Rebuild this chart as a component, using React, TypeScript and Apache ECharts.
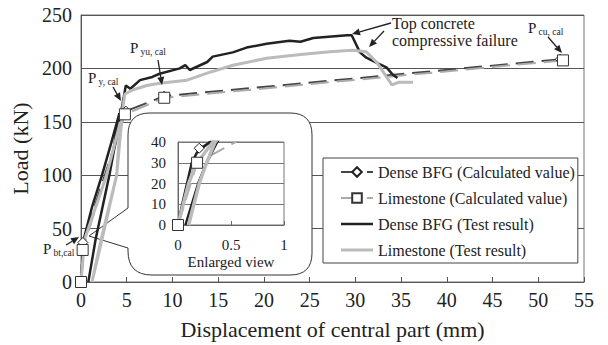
import React, { useEffect, useRef } from "react";
import * as echarts from "echarts";

const FONT = '"Liberation Serif", "Times New Roman", serif';

// Main chart: displacement (mm), load (kN)
const denseCalc: [number, number][] = [
  [0, 0], [0.2, 37], [4.9, 160], [9.1, 174], [52.4, 208.5],
];
const limeCalc: [number, number][] = [
  [0, 0], [0.18, 30], [4.8, 157], [9.1, 172.5], [52.7, 207.5],
];
const denseTest: [number, number][] = [
  [0, 0], [0.3, 40], [1.2, 70], [2.3, 100], [3.3, 130], [4.2, 158],
  [3.1, 100], [1.6, 40], [0.8, 0], [1.6, 40], [3.1, 100], [4.4, 160],
  [4.9, 184], [5.4, 181], [6.45, 189], [7.8, 192], [8.6, 195], [10.8, 200],
  [11.4, 203], [11.9, 198.5], [13.8, 206], [14.4, 211], [16.6, 215],
  [18.1, 219.5], [20.3, 223], [22.8, 225.8], [24, 225], [25.4, 228.5],
  [29.1, 231], [29.6, 231], [30.5, 215], [31.2, 210], [32.4, 205],
  [33.4, 201], [34.1, 194], [34.6, 191],
];
const limeTest: [number, number][] = [
  [0, 0], [0.4, 40], [1.6, 70], [2.8, 100], [4.3, 150], [3.9, 100],
  [2.2, 40], [1.2, 0], [2.3, 40], [3.9, 100], [4.6, 165], [4.8, 176],
  [5.7, 180], [7.2, 184], [8.6, 186], [11.6, 189], [13.8, 195.6],
  [16.6, 203], [20.3, 209.5], [24, 213], [27.2, 215.6], [29.7, 217],
  [31.2, 215.5], [32.4, 205], [33.4, 192], [34, 184.5], [34.7, 187],
  [36.3, 187],
];

// Enlarged view (inset)
const denseTestEnlarged: [number, number][] = [
  [0, 0], [0.04, 10], [0.085, 20], [0.13, 30], [0.18, 35], [0.3, 40],
  [0.42, 44], [0.37, 40], [0.27, 30], [0.19, 20], [0.13, 10], [0.07, 0],
];
const limeTestEnlarged: [number, number][] = [
  [0, 0], [0.05, 10], [0.1, 20], [0.16, 28], [0.24, 34], [0.33, 40],
  [0.4, 43], [0.35, 40], [0.27, 30], [0.2, 20], [0.15, 10], [0.1, 0],
];

const legendNames = [
  "Dense BFG (Calculated value)",
  "Limestone (Calculated value)",
  "Dense BFG (Test result)",
  "Limestone (Test result)",
];

const calloutD =
  "M 150 113 L 290 113 Q 312 113 312 135 L 312 253 Q 312 275 290 275 L 152 275 Q 128 275 128 251 L 128 248 L 89 236 L 128 208 L 128 135 Q 128 113 150 113 Z";

// legend line icon: thin bar centred in a 32x12 box (tiny corner dots fix the box)
const lineIcon = (t: number) =>
  `path://M0,0h0.01v0.01h-0.01z M0,${6 - t / 2}h32v${t}h-32z M31.99,11.99h0.01v0.01h-0.01z`;

let registered = false;
function ensureShape() {
  if (registered) return;
  echarts.graphic.registerShape("callout", echarts.graphic.extendPath(calloutD, {}));
  registered = true;
}

function arrow(x1: number, y1: number, x2: number, y2: number) {
  const a = Math.atan2(y2 - y1, x2 - x1);
  const L = 8;
  const W = 3.5;
  const bx = x2 - L * Math.cos(a);
  const by = y2 - L * Math.sin(a);
  const p1 = [bx + W * Math.sin(a), by - W * Math.cos(a)];
  const p2 = [bx - W * Math.sin(a), by + W * Math.cos(a)];
  return [
    { type: "line", z: 20, shape: { x1, y1, x2: bx, y2: by }, style: { stroke: "#222", lineWidth: 1.3 } },
    { type: "polygon", z: 20, shape: { points: [[x2, y2], p1, p2] }, style: { fill: "#222" } },
  ];
}

function txt(text: string, x: number, y: number, size: number, align = "left") {
  return {
    type: "text",
    z: 20,
    x,
    y,
    style: { text, fontSize: size, fontFamily: FONT, fill: "#222", align, verticalAlign: "middle" },
  };
}

function pLabel(sub: string, x: number, y: number) {
  return [txt("P", x, y, 15), txt(sub, x + 10.5, y + 3.5, 9.5)];
}

export default function App() {
  const ref = useRef<HTMLDivElement>(null);
  useEffect(() => {
    if (!ref.current) return;
    ensureShape();
    const chart = echarts.init(ref.current, undefined, { renderer: "svg" });
    const calcStyle = (color: string) => ({ color, width: 2, type: [18, 8] as any });
    const option: any = {
      animation: false,
      backgroundColor: "#fff",
      grid: [
        { left: 81, right: 24, top: 15, bottom: 63, show: true, borderColor: "#777", borderWidth: 1 },
        { left: 178, right: 324, top: 142, bottom: 120, show: true, borderColor: "#777", borderWidth: 1, z: 3 },
      ],
      xAxis: [
        {
          gridIndex: 0, type: "value", min: 0, max: 55, interval: 5,
          axisLine: { show: true, lineStyle: { color: "#555" } },
          axisTick: { show: true, inside: true, length: 5, lineStyle: { color: "#555" } },
          axisLabel: { fontSize: 20, fontFamily: FONT, color: "#222", margin: 8 },
          splitLine: { show: false },
          name: "Displacement of central part (mm)", nameLocation: "middle", nameGap: 36,
          nameTextStyle: { fontSize: 22, fontFamily: FONT, color: "#222" },
        },
        {
          gridIndex: 1, type: "value", min: 0, max: 1, interval: 0.5, z: 3,
          axisLine: { show: true, lineStyle: { color: "#666" } },
          axisTick: { show: true, inside: true, length: 4, lineStyle: { color: "#666" } },
          axisLabel: { fontSize: 15, fontFamily: FONT, color: "#222", margin: 12 },
          splitLine: { show: false },
          name: "Enlarged view", nameLocation: "middle", nameGap: 29,
          nameTextStyle: { fontSize: 15, fontFamily: FONT, color: "#222" },
        },
      ],
      yAxis: [
        {
          gridIndex: 0, type: "value", min: 0, max: 250, interval: 50,
          axisLine: { show: true, lineStyle: { color: "#555" } },
          axisTick: { show: false },
          axisLabel: { fontSize: 20, fontFamily: FONT, color: "#222", margin: 9 },
          splitLine: { show: true, lineStyle: { color: "#555", width: 1 } },
          name: "Load (kN)", nameLocation: "middle", nameGap: 47, nameRotate: 90,
          nameTextStyle: { fontSize: 22, fontFamily: FONT, color: "#222" },
        },
        {
          gridIndex: 1, type: "value", min: 0, max: 40, interval: 10, z: 3,
          axisLine: { show: true, lineStyle: { color: "#666" } },
          axisTick: { show: false },
          axisLabel: { fontSize: 15, fontFamily: FONT, color: "#222", margin: 12 },
          splitLine: { show: true, lineStyle: { color: "#777", width: 1 } },
        },
      ],
      legend: {
        orient: "vertical", left: 323, top: 158,
        itemWidth: 32, itemHeight: 12, itemGap: 10,
        padding: [6, 3, 5, 17],
        backgroundColor: "#fff", borderColor: "#444", borderWidth: 1,
        textStyle: { fontFamily: FONT, fontSize: 16, color: "#222" },
        data: [
          { name: legendNames[0] },
          { name: legendNames[1] },
          { name: legendNames[2], icon: lineIcon(2.5) },
          { name: legendNames[3], icon: lineIcon(3) },
        ],
        z: 6,
      },
      graphic: [
        { type: "callout", x: 0, y: 0, z: 1, style: { fill: "#fff", stroke: "#333", lineWidth: 1 } },
        txt("Top concrete", 392, 23, 16),
        txt("compressive failure", 392, 40, 16),
        ...arrow(391, 23, 352, 34),
        ...arrow(384, 31, 369, 47),
        ...pLabel("cu, cal", 528, 28),
        ...arrow(548, 37, 562, 53),
        ...pLabel("yu, cal", 130, 48),
        ...arrow(158, 60, 162, 85),
        ...pLabel("y, cal", 88, 78),
        ...arrow(113, 87, 121, 101),
        ...pLabel("bt,cal", 43, 249),
        ...arrow(66, 245, 79, 237),
      ],
      series: [
        {
          name: legendNames[0], type: "line", xAxisIndex: 0, yAxisIndex: 0, z: 2,
          data: denseCalc, symbol: "diamond", symbolSize: 10, showAllSymbol: true,
          lineStyle: calcStyle("#444"),
          itemStyle: { color: "#fff", borderColor: "#222", borderWidth: 1 },
        },
        {
          name: legendNames[1], type: "line", xAxisIndex: 0, yAxisIndex: 0, z: 2,
          data: limeCalc, symbol: "rect", symbolSize: 11, showAllSymbol: true,
          lineStyle: calcStyle("#aaa"),
          itemStyle: { color: "#fff", borderColor: "#333", borderWidth: 1 },
        },
        {
          name: legendNames[2], type: "line", xAxisIndex: 0, yAxisIndex: 0, z: 2,
          data: denseTest, symbol: "none",
          lineStyle: { color: "#222", width: 2.5 },
          itemStyle: { color: "#222" },
        },
        {
          name: legendNames[3], type: "line", xAxisIndex: 0, yAxisIndex: 0, z: 2,
          data: limeTest, symbol: "none",
          lineStyle: { color: "#bbb", width: 3 },
          itemStyle: { color: "#bbb" },
        },
        {
          name: "inset-dense-calc", type: "line", xAxisIndex: 1, yAxisIndex: 1, z: 4,
          data: denseCalc, symbol: "diamond", symbolSize: 10, clip: true,
          lineStyle: calcStyle("#444"),
          itemStyle: { color: "#fff", borderColor: "#222", borderWidth: 1 },
        },
        {
          name: "inset-lime-calc", type: "line", xAxisIndex: 1, yAxisIndex: 1, z: 4,
          data: limeCalc, symbol: "rect", symbolSize: 11, clip: true,
          lineStyle: calcStyle("#aaa"),
          itemStyle: { color: "#fff", borderColor: "#333", borderWidth: 1 },
        },
        {
          name: "inset-dense-test", type: "line", xAxisIndex: 1, yAxisIndex: 1, z: 4,
          data: denseTestEnlarged, symbol: "none", clip: true,
          lineStyle: { color: "#222", width: 2.5 },
        },
        {
          name: "inset-lime-test", type: "line", xAxisIndex: 1, yAxisIndex: 1, z: 4,
          data: limeTestEnlarged, symbol: "none", clip: true,
          lineStyle: { color: "#bbb", width: 3.5 },
        },
      ],
    };
    chart.setOption(option);
    return () => chart.dispose();
  }, []);
  return (
    <div
      ref={ref}
      style={{ position: "fixed", left: 0, top: 0, width: 608, height: 345 }}
    />
  );
}
